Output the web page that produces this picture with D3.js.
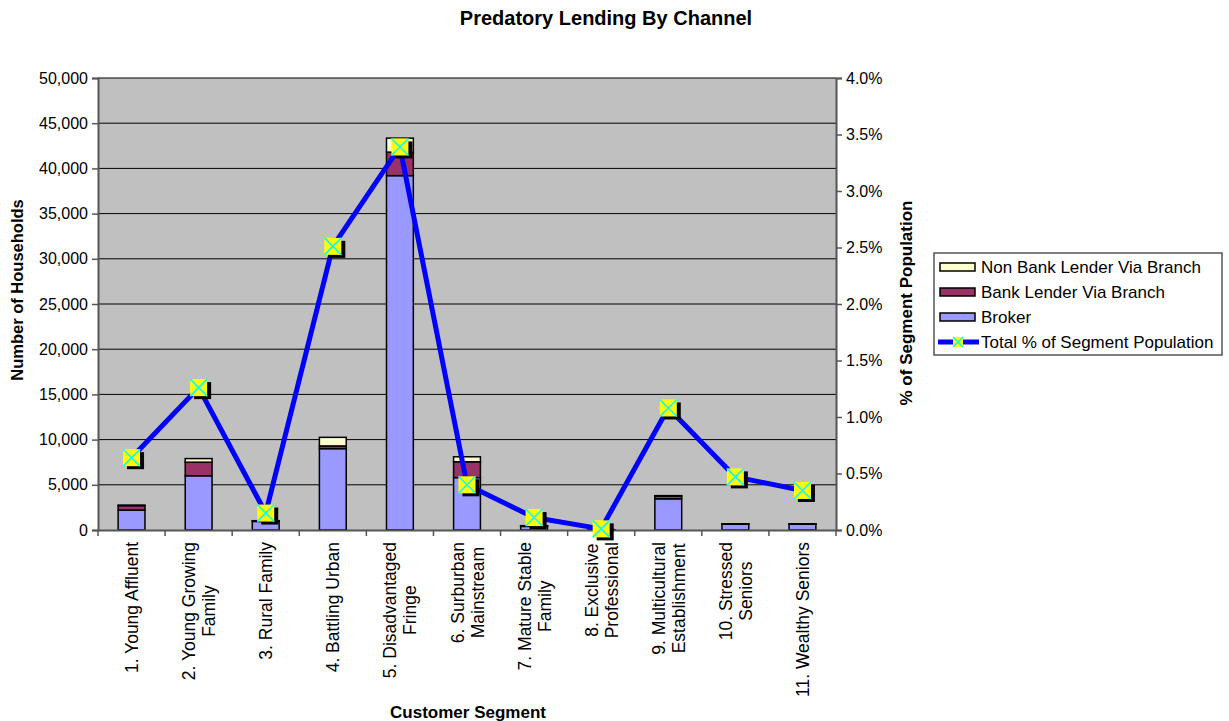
<!DOCTYPE html>
<html>
<head>
<meta charset="utf-8">
<script src="https://cdn.jsdelivr.net/npm/d3@7"></script>
<style>
  body { margin: 0; background: #fff; }
  svg { font-family: "Liberation Sans", Arial, sans-serif; }
</style>
</head>
<body>
<svg id="chart" width="1229" height="721"></svg>
<script>
// data
const segments = ["1. Young Affluent", "2. Young Growing|Family", "3. Rural Family", "4. Battling Urban",
  "5. Disadvantaged|Fringe", "6. Surburban|Mainstream", "7. Mature Stable|Family", "8. Exclusive|Professional",
  "9. Multicultural|Establishment", "10. Stressed|Seniors", "11. Wealthy Seniors"]
const broker = [2200, 6000, 950, 9000, 39200, 5800, 400, 20, 3450, 650, 650]
const bankBranch = [500, 1500, 50, 300, 2600, 1750, 40, 10, 300, 30, 30]
const nonBankBranch = [50, 400, 30, 950, 1550, 550, 40, 10, 50, 10, 10]
const pctPopulation = [0.0064, 0.0126, 0.0015, 0.0251, 0.0339, 0.0040, 0.0011, 0.0001, 0.0108, 0.0047, 0.0035]
const leftTicks = [0, 5000, 10000, 15000, 20000, 25000, 30000, 35000, 40000, 45000, 50000]
const rightTicks = [0, 0.005, 0.01, 0.015, 0.02, 0.025, 0.03, 0.035, 0.04]

const seriesNames = ["Broker", "Bank Lender Via Branch", "Non Bank Lender Via Branch"]
const seriesColors = ["#9999ff", "#993366", "#ffffcc"]

const pLeft = 98, pRight = 836, pTop = 78, pBottom = 530

const svg = d3.select("#chart")

const x = d3.scaleBand().domain(segments).range([pLeft, pRight]).paddingInner(0.6).paddingOuter(0.3)
const xBand = d3.scaleBand().domain(segments).range([pLeft, pRight])
const y = d3.scaleLinear().domain([0, 50000]).range([pBottom, pTop])
const y2 = d3.scaleLinear().domain([0, 0.04]).range([pBottom, pTop])

// plot area
svg.append("rect")
    .attr("x", pLeft).attr("y", pTop)
    .attr("width", pRight - pLeft).attr("height", pBottom - pTop)
    .attr("fill", "#c0c0c0")

svg.append("g").selectAll("line")
    .data(leftTicks.filter(d => d > 0))
    .join("line")
    .attr("x1", pLeft).attr("x2", pRight)
    .attr("y1", d => y(d)).attr("y2", d => y(d))
    .attr("stroke", "#000").attr("stroke-width", 1)

// stacked bars
const rows = segments.map((s, i) => ({ seg: s, Broker: broker[i], "Bank Lender Via Branch": bankBranch[i], "Non Bank Lender Via Branch": nonBankBranch[i] }))
const stacked = d3.stack().keys(seriesNames)(rows)

svg.append("g").selectAll("g")
    .data(stacked)
    .join("g")
    .attr("fill", (d, i) => seriesColors[i])
    .selectAll("rect")
    .data(d => d)
    .join("rect")
    .attr("x", d => x(d.data.seg))
    .attr("width", x.bandwidth())
    .attr("y", d => y(d[1]))
    .attr("height", d => y(d[0]) - y(d[1]))
    .attr("stroke", "#000").attr("stroke-width", 1.5)

// axes
const yAxis = d3.axisLeft(y).tickValues(leftTicks).tickSize(6).tickFormat(d3.format(","))
const gy = svg.append("g").attr("transform", `translate(${pLeft},0)`).call(yAxis)
const y2Axis = d3.axisRight(y2).tickValues(rightTicks).tickSize(6).tickFormat(d3.format(".1%"))
const gy2 = svg.append("g").attr("transform", `translate(${pRight},0)`).call(y2Axis)
const xAxis = d3.axisBottom(xBand).tickSize(0).tickFormat("")
const gx = svg.append("g").attr("transform", `translate(0,${pBottom})`).call(xAxis)

for (const g of [gy, gy2, gx]) {
  g.select(".domain").attr("stroke", "#555").attr("stroke-width", 2)
  g.selectAll(".tick line").attr("stroke", "#555").attr("stroke-width", 1.5)
  g.selectAll(".tick text").attr("font-size", 16).attr("fill", "#000")
    .attr("font-family", "Liberation Sans, Arial, sans-serif")
}
gy.selectAll(".tick text").attr("x", -10)
gy2.selectAll(".tick text").attr("x", 10)

// category boundary ticks
gx.selectAll("line.bound")
    .data(segments.concat(["end"]))
    .join("line").attr("class", "bound")
    .attr("x1", (d, i) => pLeft + i * xBand.step()).attr("x2", (d, i) => pLeft + i * xBand.step())
    .attr("y1", 0).attr("y2", 6)
    .attr("stroke", "#555").attr("stroke-width", 1.5)

// rotated category labels
const labelG = svg.append("g")
segments.forEach(s => {
  const lines = s.split("|")
  const cx = xBand(s) + xBand.bandwidth() / 2
  const t = labelG.append("g")
  const texts = lines.map(l => t.append("text").text(l).attr("font-size", 17.5).attr("text-anchor", "middle"))
  const maxW = d3.max(texts, tx => tx.node().getComputedTextLength())
  const lh = 20
  const n = lines.length
  texts.forEach((tx, j) => {
    const off = (j - (n - 1) / 2) * lh
    tx.attr("transform", `translate(${cx + off + 6.5},${pBottom + 12 + maxW / 2}) rotate(-90)`)
  })
})

// percentage line with markers
const line = d3.line()
    .x((d, i) => xBand(segments[i]) + xBand.bandwidth() / 2)
    .y(d => y2(d))
svg.append("path")
    .datum(pctPopulation)
    .attr("d", line)
    .attr("fill", "none").attr("stroke", "#0000ff").attr("stroke-width", 5)
    .attr("stroke-linejoin", "round")

const ms = 17
const markers = svg.append("g").selectAll("g")
    .data(pctPopulation)
    .join("g")
    .attr("transform", (d, i) => `translate(${xBand(segments[i]) + xBand.bandwidth() / 2},${y2(d)})`)
markers.append("rect").attr("x", -ms / 2 + 4).attr("y", -ms / 2 + 3).attr("width", ms).attr("height", ms).attr("fill", "#000")
markers.append("rect").attr("x", -ms / 2).attr("y", -ms / 2).attr("width", ms).attr("height", ms).attr("fill", "#ffff00")
markers.append("path").attr("d", `M${-ms / 2},${-ms / 2}L${ms / 2},${ms / 2}M${ms / 2},${-ms / 2}L${-ms / 2},${ms / 2}`)
    .attr("stroke", "#00ffff").attr("stroke-width", 1.5)

// titles
svg.append("text").attr("x", 606).attr("y", 25).attr("text-anchor", "middle")
    .attr("font-size", 20).attr("font-weight", "bold").text("Predatory Lending By Channel")
svg.append("text").attr("x", 468).attr("y", 718).attr("text-anchor", "middle")
    .attr("font-size", 17).attr("font-weight", "bold").text("Customer Segment")
svg.append("text").attr("transform", `translate(23,290) rotate(-90)`).attr("text-anchor", "middle")
    .attr("font-size", 16.5).attr("font-weight", "bold").text("Number of Households")
svg.append("text").attr("transform", `translate(912,303) rotate(-90)`).attr("text-anchor", "middle")
    .attr("font-size", 17).attr("font-weight", "bold").text("% of Segment Population")

// legend
const lg = svg.append("g").attr("transform", "translate(934,253)")
lg.append("rect").attr("width", 288).attr("height", 102).attr("fill", "#fff").attr("stroke", "#555").attr("stroke-width", 1.5)
const legendItems = [
  { name: "Non Bank Lender Via Branch", color: seriesColors[2] },
  { name: "Bank Lender Via Branch", color: seriesColors[1] },
  { name: "Broker", color: seriesColors[0] }
]
legendItems.forEach((d, i) => {
  const ry = 14 + i * 25
  lg.append("rect").attr("x", 6).attr("y", ry - 4).attr("width", 35).attr("height", 8)
      .attr("fill", d.color).attr("stroke", "#000").attr("stroke-width", 1.5)
  lg.append("text").attr("x", 47).attr("y", ry + 6).attr("font-size", 17).text(d.name)
})
const ly = 14 + 3 * 25
lg.append("line").attr("x1", 4).attr("x2", 45).attr("y1", ly).attr("y2", ly).attr("stroke", "#0000ff").attr("stroke-width", 5)
lg.append("rect").attr("x", 19).attr("y", ly - 5).attr("width", 10).attr("height", 10).attr("fill", "#ffff00")
lg.append("path").attr("d", `M19,${ly - 5}L29,${ly + 5}M29,${ly - 5}L19,${ly + 5}`).attr("stroke", "#00ffff").attr("stroke-width", 1.5)
lg.append("text").attr("x", 47).attr("y", ly + 6).attr("font-size", 17).text("Total % of Segment Population")
</script>
</body>
</html>
